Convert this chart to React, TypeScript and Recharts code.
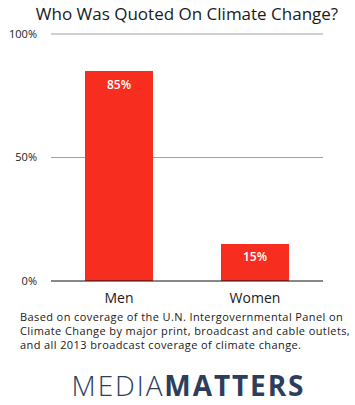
import React from 'react';
import { BarChart, Bar, XAxis, YAxis, CartesianGrid, LabelList } from 'recharts';

const groups = ['Men', 'Women'];
const quoted = [85, 15];
const yTicks = [0, 50, 100];
const noteLines = [
  'Based on coverage of the U.N. Intergovernmental Panel on',
  'Climate Change by major print, broadcast and cable outlets,',
  'and all 2013 broadcast coverage of climate change.',
];

const data = groups.map((g, i) => ({ group: g, share: quoted[i] }));

const App: React.FC = () => {
  return (
    <div
      style={{
        position: 'absolute',
        left: 0,
        top: 0,
        width: 355,
        height: 405,
        background: '#fff',
        fontFamily: '"Open Sans", sans-serif',
        color: '#1a1a1a',
      }}
    >
      <div style={{ position: 'absolute', top: 2, left: 0, width: 374, textAlign: 'center', fontSize: 17 }}>
        Who Was Quoted On Climate Change?
      </div>
      <div style={{ position: 'absolute', top: 0, left: 0 }}>
        <BarChart width={355} height={312} data={data} margin={{ top: 34, right: 32, left: 0, bottom: 0 }}>
          <CartesianGrid vertical={false} stroke="#a0a0a0" horizontalValues={[50, 100]} />
          <XAxis
            dataKey="group"
            height={31}
            tickLine={false}
            axisLine={{ stroke: '#111' }}
            tick={{ fill: '#1a1a1a', fontSize: 14 }}
            tickMargin={6}
          />
          <YAxis
            width={51}
            domain={[0, 100]}
            ticks={yTicks}
            axisLine={false}
            tickLine={false}
            tickSize={0}
            tickMargin={14}
            tickFormatter={(v: number) => `${v}%`}
            tick={{ fill: '#1a1a1a', fontSize: 11 }}
          />
          <Bar dataKey="share" fill="#f62d1f" barSize={68} isAnimationActive={false}>
            <LabelList
              dataKey="share"
              position="insideTop"
              offset={9}
              fill="#fff"
              fontSize={12}
              fontWeight={600}
              formatter={(v: number) => `${v}%`}
            />
          </Bar>
        </BarChart>
      </div>
      <div
        style={{
          position: 'absolute',
          top: 310,
          left: 20,
          fontSize: 11,
          lineHeight: '14px',
          letterSpacing: 0.4,
          whiteSpace: 'nowrap',
        }}
      >
        {noteLines.map((line) => (
          <div key={line}>{line}</div>
        ))}
      </div>
      <div
        style={{
          position: 'absolute',
          top: 366,
          left: 0,
          width: 377,
          textAlign: 'center',
          fontSize: 28,
          color: '#2c3e5c',
          letterSpacing: 1.9,
        }}
      >
        <span style={{ fontWeight: 300 }}>MEDIA</span>
        <span style={{ fontWeight: 700 }}>MATTERS</span>
      </div>
    </div>
  );
};

export default App;
